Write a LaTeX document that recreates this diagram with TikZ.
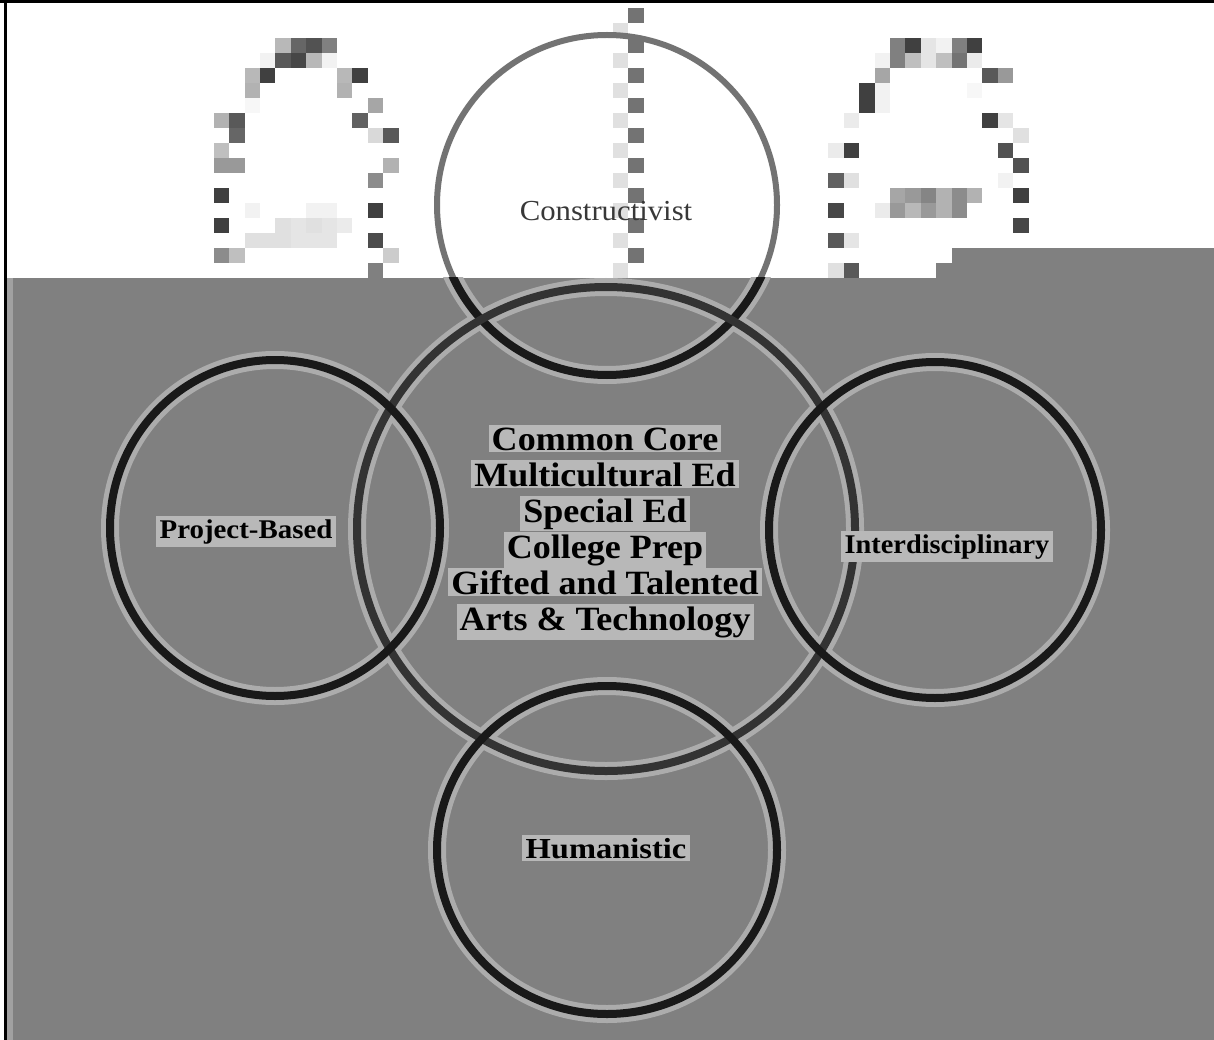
\documentclass[tikz,border=0pt]{standalone}
\usepackage{fontspec}
\setmainfont{Liberation Serif}
\definecolor{bg}{RGB}{128,128,128}
\definecolor{labelbg}{RGB}{184,184,184}
\definecolor{halocol}{RGB}{172,172,172}
\tikzset{
  halo/.style={line width=18pt, draw=halocol},
  ring/.style={line width=8pt, draw=black!90},
  cl/.style={font=\bfseries\fontsize{34}{34}\selectfont, fill=labelbg, inner xsep=3pt, inner ysep=2pt, anchor=base, text=black},
  lbl/.style={font=\bfseries\fontsize{27}{27}\selectfont, fill=labelbg, inner xsep=4pt, inner ysep=3pt, anchor=base, text=black},
}
\begin{document}
\begin{tikzpicture}[x=1pt,y=-1pt]
\useasboundingbox (0,0) rectangle (1214,1040);
\fill[white] (0,0) rectangle (1214,1040);
% grey field
\fill[bg] (8,278) rectangle (1214,1040);
\fill[bg] (936,263) rectangle (1214,278.5);
\fill[bg] (952,248) rectangle (1214,263.5);
\fill[black!37] (7,278) rectangle (13,1040);
% frame
\draw[line width=3pt] (5,0) -- (5,1040);
\draw[line width=3pt] (0,2) -- (1214,2);
% left pixel arch
\foreach \c/\r/\g in {4/0/28,5/0/60,6/0/68,7/0/50,
  3/1/5,4/1/65,5/1/72,6/1/28,7/1/5,
  2/2/28,3/2/75,8/2/28,9/2/75,
  2/3/30,8/3/30,
  2/4/3,10/4/35,
  0/5/30,1/5/65,9/5/62,
  1/6/60,10/6/15,11/6/65,
  0/7/25,
  0/8/40,1/8/40,11/8/30,
  10/9/45,
  0/10/75,
  2/11/5,6/11/5,7/11/5,10/11/75,
  0/12/75,4/12/12,5/12/10,6/12/12,7/12/10,8/12/8,
  2/13/12,3/13/12,4/13/12,5/13/10,6/13/10,7/13/10,10/13/70,
  0/14/45,1/14/25,11/14/20,
  10/15/50}
  \fill[black!\g] ({213.7+15.4*\c},{38.3+15*\r}) rectangle ++(15.4,15);
% right pixel arch
\foreach \c/\r/\g in {4/0/50,5/0/75,6/0/10,7/0/5,8/0/50,9/0/75,
  3/1/5,4/1/50,5/1/25,6/1/10,7/1/25,8/1/55,9/1/8,
  3/2/35,10/2/65,11/2/40,
  2/3/75,3/3/5,9/3/3,
  2/4/75,3/4/5,
  1/5/8,10/5/75,11/5/10,
  12/6/12,
  0/7/8,1/7/75,11/7/68,
  12/8/68,
  0/9/62,1/9/12,11/9/5,
  4/10/35,5/10/40,6/10/48,7/10/30,8/10/45,9/10/30,12/10/75,
  0/11/72,3/11/8,4/11/40,5/11/28,6/11/40,7/11/30,8/11/45,
  12/12/72,
  0/13/65,1/13/10,
  0/15/12,1/15/65}
  \fill[black!\g] ({828.4+15.4*\c},{38.3+15*\r}) rectangle ++(15.4,15);
% vertical dotted column
\foreach \r in {-2,0,...,14}
  \fill[black!55] (628.3,{38.3+15*\r}) rectangle ++(15.5,15);
\foreach \r in {-1,1,...,15}
  \fill[black!12] (613,{38.3+15*\r}) rectangle ++(15.3,15);
% circle centres
\coordinate (cen) at (606,529);
\coordinate (con) at (607,205);
\coordinate (pro) at (275,528);
\coordinate (int) at (935,530);
\coordinate (hum) at (607,850);
% halos
\begin{scope}
  \clip (8,278) rectangle (1214,1040);
  \draw[halo] (cen) ellipse [x radius=249, y radius=242];
  \draw[halo] (con) circle [radius=170];
  \draw[halo] (pro) ellipse [x radius=165, y radius=168];
  \draw[halo] (int) ellipse [x radius=166, y radius=168];
  \draw[halo] (hum) ellipse [x radius=170, y radius=164];
\end{scope}
% rings
\begin{scope}
  \clip (0,0) rectangle (1214,278);
  \draw[line width=6pt, draw=black!55] (con) circle [radius=170];
\end{scope}
\begin{scope}
  \clip (0,278) rectangle (1214,1040);
  \draw[ring] (con) circle [radius=170];
\end{scope}
\draw[ring, draw=black!80] (cen) ellipse [x radius=249, y radius=242];
\draw[ring] (pro) ellipse [x radius=165, y radius=168];
\draw[ring] (int) ellipse [x radius=166, y radius=168];
\draw[ring] (hum) ellipse [x radius=170, y radius=164];
% labels
\node[font=\fontsize{29}{29}\selectfont, text=black!78, anchor=base, inner sep=0pt] (tcon) at (606,221) {\scalebox{1.06}[1]{Constructivist}};
\node[lbl] (tpro) at (246,538) {\scalebox{1.07}[1]{Project-Based}};
\node[lbl] (tint) at (947,553) {\scalebox{1.05}[1]{Interdisciplinary}};
\node[lbl, font=\bfseries\fontsize{29}{29}\selectfont] (thum) at (606,858) {\scalebox{1.12}[1]{Humanistic}};
\node[cl] (c1) at (605,450) {\scalebox{1.06}[1]{Common Core}};
\node[cl] (c2) at (605,486) {\scalebox{1.06}[1]{Multicultural Ed}};
\node[cl] (c3) at (605,522) {\scalebox{1.06}[1]{Special Ed}};
\node[cl] (c4) at (605,558) {\scalebox{1.06}[1]{College Prep}};
\node[cl] (c5) at (605,594) {\scalebox{1.06}[1]{Gifted and Talented}};
\node[cl] (c6) at (605,630) {\scalebox{1.06}[1]{Arts \& Technology}};
\end{tikzpicture}
\end{document}
